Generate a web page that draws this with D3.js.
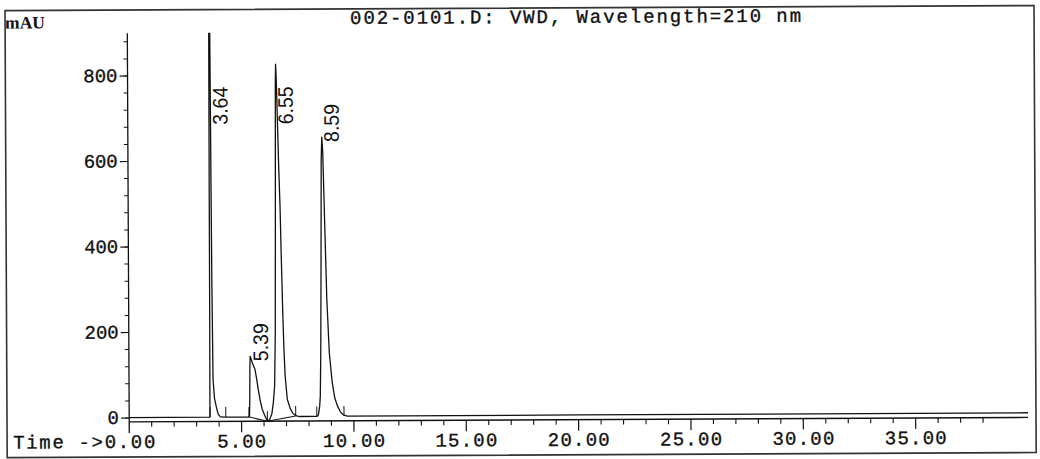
<!DOCTYPE html>
<html><head><meta charset="utf-8">
<script src="https://cdn.jsdelivr.net/npm/d3@7"></script>
<style>
html,body{margin:0;padding:0;background:#fff;}
svg{display:block;}
</style></head>
<body>
<svg id="c" width="1040" height="459"></svg>
<script>
// ---- data ----
const title = "002-0101.D: VWD, Wavelength=210 nm";
const yUnit = "mAU";
const xTickLabels = ["0.00","5.00","10.00","15.00","20.00","25.00","30.00","35.00"];
const xTickValues = [0,5,10,15,20,25,30,35];
const yTickValues = [0,200,400,600,800];
const yTickLabels = ["0","200","400","600","800"];
const peakTimes = [3.64, 5.39, 6.55, 8.59];
const peakLabels = ["3.64","5.39","6.55","8.59"];
const peakHeights = [900, 143, 826, 655];
const eventTimes = [3.60, 4.30, 5.33, 6.15, 7.41, 8.35, 9.56];
const eventLevels = [1, 1, 1, -9, 3, 1.5, 2];
const traceTime = [0,3.58,3.595,3.605,3.615,3.625,3.66,3.675,3.69,3.71,3.74,3.80,3.88,3.96,4.05,4.2,
  5.30,5.355,5.37,5.38,5.395,5.43,5.50,5.61,5.68,5.75,5.84,5.92,6.02,6.15,6.25,6.35,6.42,6.48,6.52,6.55,6.575,6.59,6.61,6.64,6.70,6.76,6.80,6.85,6.90,6.95,7.04,7.17,7.30,7.45,7.6,
  8.35,8.42,8.48,8.51,8.54,8.57,8.60,8.63,8.67,8.73,8.82,8.92,9.04,9.15,9.27,9.40,9.53,9.7,20,40];
const traceMAU = [1,1,3,250,700,1000,1000,800,550,300,89,45,25,8,2,1,
  1,3,40,110,143,138,126,112,90,65,38,19,6,-9,-5,8,35,75,200,480,780,826,800,740,600,490,380,260,160,96,42,20,8,3,1.5,
  1.5,5,25,50,150,350,600,655,620,480,276,150,82,45,26,12,5,2,2,2];
const integBaseT = [5.33, 6.15, 7.41];
const integBaseV = [1, -9, 3];

// ---- drawing ----
const svg = d3.select("#c");
const root = svg.append("g").attr("transform","rotate(-0.28,129,418)");
const x = d3.scaleLinear().domain([0,40]).range([129.2, 1028]);
const y = d3.scaleLinear().domain([0,900]).range([418, 33.25]);
const ink = "#111";
const mono = "'Liberation Mono', 'DejaVu Sans Mono', monospace";
const textStroke = sel => sel.attr("stroke",ink).attr("stroke-width",0.35);

// frame
root.append("rect").attr("x",7).attr("y",10).attr("width",1029).attr("height",447)
  .attr("fill","none").attr("stroke","#333").attr("stroke-width",1.6);

// title & unit
root.append("text").attr("x",352).attr("y",25).attr("font-family",mono).attr("font-size",19)
  .attr("textLength",451).attr("lengthAdjust","spacing").attr("fill",ink).call(textStroke).text(title);
root.append("text").attr("x",7).attr("y",28).attr("font-family","'Liberation Serif', serif")
  .attr("font-weight","bold").attr("font-size",17.5).attr("fill",ink).text(yUnit);

// y axis
const yAxisX = x(0);
root.append("line").attr("x1",yAxisX).attr("x2",yAxisX).attr("y1",y(900)).attr("y2",433)
  .attr("stroke",ink).attr("stroke-width",1.3);
const yMinor = d3.range(0, 900, 40);
root.append("g").selectAll("line").data(yMinor).join("line")
  .attr("x1",yAxisX-4).attr("x2",yAxisX).attr("y1",d=>y(d)).attr("y2",d=>y(d))
  .attr("stroke",ink).attr("stroke-width",1);
root.append("g").selectAll("line").data(yTickValues).join("line")
  .attr("x1",yAxisX-8).attr("x2",yAxisX).attr("y1",d=>y(d)).attr("y2",d=>y(d))
  .attr("stroke",ink).attr("stroke-width",1.2);
root.append("g").selectAll("text").data(yTickValues).join("text")
  .attr("x",119).attr("y",d=>y(d)+6).attr("text-anchor","end")
  .attr("font-family",mono).attr("font-size",19)
  .attr("textLength",(d,i)=>yTickLabels[i].length*12-2).attr("lengthAdjust","spacing")
  .attr("fill",ink).call(textStroke).text((d,i)=>yTickLabels[i]);

// x axis
const xAxisY = y(-9);
root.append("line").attr("x1",x(0)).attr("x2",x(40)).attr("y1",xAxisY).attr("y2",xAxisY)
  .attr("stroke",ink).attr("stroke-width",1.3);
const xMinor = d3.range(1, 39, 1).filter(d=>d%5!==0);
root.append("g").selectAll("line").data(xMinor).join("line")
  .attr("x1",d=>x(d)).attr("x2",d=>x(d)).attr("y1",xAxisY).attr("y2",xAxisY+5)
  .attr("stroke",ink).attr("stroke-width",1.1);
root.append("g").selectAll("line").data(xTickValues.filter(d=>d>0)).join("line")
  .attr("x1",d=>x(d)).attr("x2",d=>x(d)).attr("y1",xAxisY).attr("y2",xAxisY+11)
  .attr("stroke",ink).attr("stroke-width",1.2);
root.append("g").selectAll("text").data(xTickValues).join("text")
  .attr("x",(d,i)=> i===0 ? x(d)+26 : x(d))
  .attr("y",448)
  .attr("text-anchor",(d,i)=> i===0 ? "end" : "middle")
  .attr("font-family",mono).attr("font-size",19)
  .attr("textLength",(d,i)=> i===0 ? ("Time ->"+xTickLabels[i]).length*13.2-3 : xTickLabels[i].length*13-3)
  .attr("lengthAdjust","spacing")
  .attr("fill",ink).call(textStroke).text((d,i)=> i===0 ? "Time ->"+xTickLabels[i] : xTickLabels[i]);

// clip to plot range
svg.append("defs").append("clipPath").attr("id","plotclip")
  .append("rect").attr("x",x(0)).attr("y",y(900)).attr("width",x(40)-x(0)+2).attr("height",440-y(900));
const plot = root.append("g").attr("clip-path","url(#plotclip)");

// trace
const pts = traceTime.map((t,i)=>[t, traceMAU[i]]);
plot.append("path").datum(pts)
  .attr("d", d3.line().x(d=>x(d[0])).y(d=>y(d[1])))
  .attr("fill","none").attr("stroke",ink).attr("stroke-width",1.3).attr("stroke-linejoin","round");

// integration baseline
plot.append("path").datum(integBaseT.map((t,i)=>[t, integBaseV[i]]))
  .attr("d", d3.line().x(d=>x(d[0])).y(d=>y(d[1])))
  .attr("fill","none").attr("stroke",ink).attr("stroke-width",1);

// event markers
plot.append("g").selectAll("line").data(eventTimes).join("line")
  .attr("x1",d=>x(d)).attr("x2",d=>x(d))
  .attr("y1",(d,i)=>y(eventLevels[i])).attr("y2",(d,i)=>y(eventLevels[i])-10)
  .attr("stroke",ink).attr("stroke-width",1);

// peak labels
root.append("g").selectAll("text").data(peakTimes).join("text")
  .attr("transform",(d,i)=>{
    const lx = x(d)+18;
    const ly = Math.max(y(peakHeights[i])+5, y(685));
    return `translate(${lx},${ly}) rotate(-90)`;
  })
  .attr("font-family","'Liberation Sans', Arial, sans-serif").attr("font-size",21)
  .attr("textLength",38).attr("lengthAdjust","spacingAndGlyphs")
  .attr("fill",ink).text((d,i)=>peakLabels[i]);
</script>
</body></html>
